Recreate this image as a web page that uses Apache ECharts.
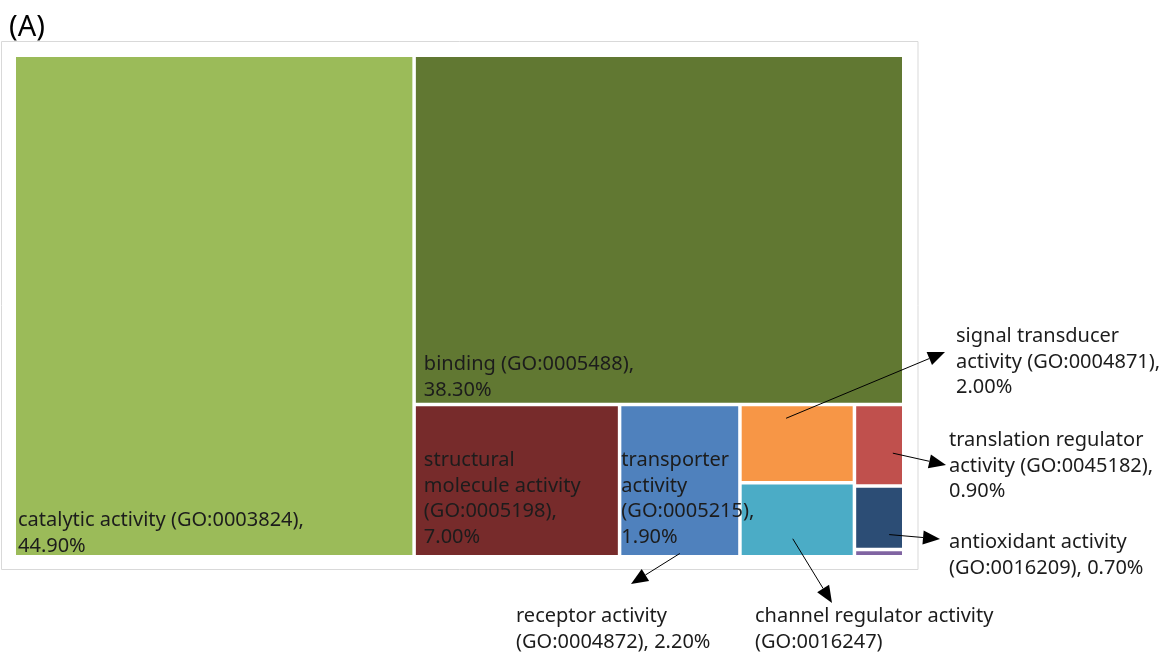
<!DOCTYPE html>
<html>
<head>
<meta charset="utf-8">
<title>GO molecular function treemap</title>
<script src="https://cdn.jsdelivr.net/npm/echarts@6/dist/echarts.min.js"></script>
<style>
  html, body { margin: 0; padding: 0; background: #fff; }
  #chart { width: 1163px; height: 655px; }
</style>
</head>
<body>
<div id="chart"></div>
<script>
// GO terms (molecular function)
const names = ['catalytic activity', 'binding', 'structural\nmolecule activity', 'receptor activity',
  'transporter\nactivity', 'signal transducer\nactivity', 'channel regulator activity',
  'translation regulator\nactivity', 'antioxidant activity', 'other'];
const goIds = ['GO:0003824', 'GO:0005488', 'GO:0005198', 'GO:0004872', 'GO:0005215',
  'GO:0004871', 'GO:0016247', 'GO:0045182', 'GO:0016209', ''];
const percents = [44.9, 38.3, 7.0, 2.2, 1.9, 2.0, 1.9, 0.9, 0.7, 0.08];
const colors = ['#9BBB59', '#617832', '#772B2B', '#4F81BD', '#4F81BD',
  '#F79646', '#4BACC6', '#C0504D', '#2C4D75', '#8064A2'];
// label layout: {n} name, {g} GO id, {p} percent
const labelTpl = ['{n} ({g}),\n{p}', '{n} ({g}),\n{p}', '{n}\n({g}),\n{p}', '{n}\n({g}), {p}',
  '{n}\n({g}),\n{p}', '{n} ({g}),\n{p}', '{n}\n({g})', '{n} ({g}),\n{p}', '{n}\n({g}), {p}', ''];

const FONT = '"Noto Sans", sans-serif';
const TEXT_COLOR = '#1c1c1c';
const LINE_H = 25.5;

function labelText(i) {
  return labelTpl[i].replace('{n}', names[i]).replace('{g}', goIds[i])
    .replace('{p}', percents[i].toFixed(2) + '%');
}

function leaf(i) {
  return { name: names[i], value: percents[i], itemStyle: { color: colors[i] } };
}

// receptor + transporter share one blue box in the figure
const groupName = 'receptor / transporter';
const treeData = [
  leaf(0), leaf(1), leaf(2),
  { name: groupName, itemStyle: { color: colors[3] }, children: [leaf(3), leaf(4)] },
  leaf(5), leaf(6), leaf(7), leaf(8), leaf(9)
];

const chart = echarts.init(document.getElementById('chart'));
chart.setOption({
  animation: false,
  tooltip: { show: false },
  series: [{
    type: 'treemap',
    left: 16, top: 57, width: 886, height: 498,
    squareRatio: 1,
    leafDepth: 1,
    roam: false,
    nodeClick: false,
    breadcrumb: { show: false },
    label: { show: false },
    upperLabel: { show: false },
    itemStyle: { gapWidth: 3.5, borderWidth: 0, borderColor: '#fff' },
    emphasis: { disabled: true },
    data: treeData
  }]
});

// find where the treemap put a node
const series = chart.getModel().getSeriesByIndex(0);
const tree = series.getData().tree;
const info = series.layoutInfo;
function rectOf(name) {
  let found = null;
  tree.root.eachNode(function (n) { if (n.name === name) found = n; });
  const r = tree.root.getLayout();
  const l = found.getLayout();
  return { x: info.x + r.x + l.x, y: info.y + r.y + l.y, w: l.width, h: l.height };
}

function arrow(x1, y1, x2, y2) {
  const dx = x2 - x1, dy = y2 - y1, len = Math.hypot(dx, dy);
  const ux = dx / len, uy = dy / len, hl = 17, hw = 7;
  const bx = x2 - ux * hl, by = y2 - uy * hl;
  return [
    { type: 'line', z: 100, shape: { x1: x1, y1: y1, x2: bx, y2: by }, style: { stroke: '#000', lineWidth: 1 } },
    { type: 'polygon', z: 100, shape: { points: [[x2, y2], [bx - uy * hw, by + ux * hw], [bx + uy * hw, by - ux * hw]] },
      style: { fill: '#000' } }
  ];
}

const graphics = [
  { type: 'rect', z: -1, shape: { x: 1.5, y: 41.5, width: 916.5, height: 528 },
    style: { fill: 'none', stroke: '#d9d9d9', lineWidth: 1 } },
  { type: 'text', style: { text: '(A)', x: 9, y: 28, font: '29px ' + FONT, fill: '#000', verticalAlign: 'middle' } }
];

// labels inside the boxes, anchored at bottom-left
[[0, names[0], 2, -4], [1, names[1], 8, 0], [2, names[2], 8, 5], [4, groupName, 0, 5]].forEach(function (d) {
  const r = rectOf(d[1]);
  graphics.push({ type: 'text', z: 90, style: {
    text: labelText(d[0]), x: r.x + d[2], y: r.y + r.h - d[3],
    font: '20px ' + FONT, fill: TEXT_COLOR, lineHeight: LINE_H, verticalAlign: 'bottom'
  } });
});

// labels outside with arrows: [index, box, fx, fy, arrow tip x, tip y, text x, text y]
[
  [5, names[5], 0.40, 0.16, 945, 352, 956, 324],
  [7, names[7], 0.80, 0.60, 946, 465, 949, 428],
  [8, names[8], 0.72, 0.78, 940, 539, 949, 530],
  [3, groupName, 0.50, 0.99, 631, 584, 516, 604],
  [6, names[6], 0.46, 0.77, 832, 603, 755, 604]
].forEach(function (d) {
  const r = rectOf(d[1]);
  arrow(r.x + d[2] * r.w, r.y + d[3] * r.h, d[4], d[5]).forEach(function (g) { graphics.push(g); });
  graphics.push({ type: 'text', z: 90, style: {
    text: labelText(d[0]), x: d[6], y: d[7],
    font: '20px ' + FONT, fill: TEXT_COLOR, lineHeight: LINE_H, verticalAlign: 'top'
  } });
});

chart.setOption({ graphic: graphics });
</script>
</body>
</html>
